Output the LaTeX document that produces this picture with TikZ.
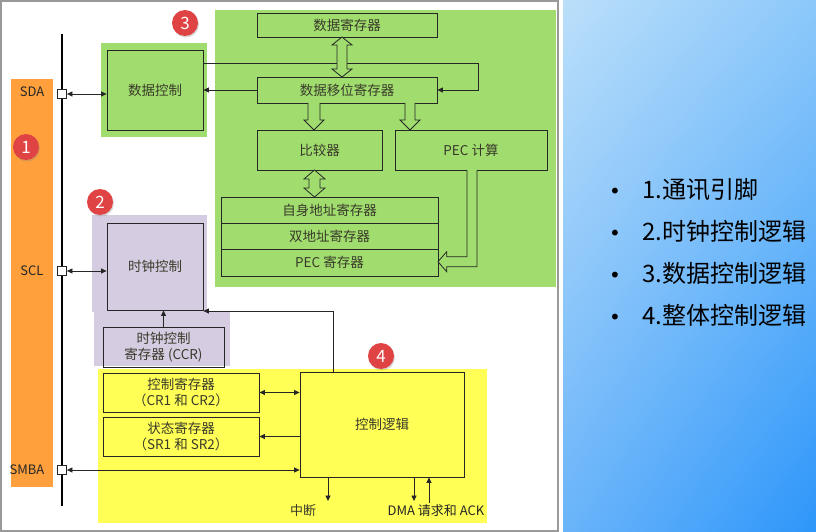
\documentclass[tikz,border=0pt]{standalone}
\usepackage{fontspec}
\setmainfont{Noto Sans CJK SC}
\newfontfamily\dejavu{DejaVu Sans}
\usetikzlibrary{arrows.meta,shadows,calc,shadings}
\definecolor{orangebar}{HTML}{FFA03C}
\definecolor{greenbg}{HTML}{A0DD6E}
\definecolor{purplebg}{HTML}{D5CCE2}
\definecolor{yellowbg}{HTML}{FFFF55}
\definecolor{badgered}{HTML}{E04343}
\definecolor{txt}{HTML}{3A3A2A}
\definecolor{gul}{RGB}{187,223,250}
\definecolor{gur}{RGB}{140,200,250}
\definecolor{gll}{RGB}{106,180,250}
\definecolor{glr}{RGB}{45,150,250}
\begin{document}
\begin{tikzpicture}[x=1pt,y=-1pt,
  >={Triangle[length=5.5pt,width=5pt]},
  box/.style={draw=black!85, line width=0.8pt, inner sep=0pt, text=txt, font=\fontsize{13.5}{16}\selectfont, align=center},
  pin/.style={draw=black!85, fill=white, line width=0.8pt, minimum size=9pt, inner sep=0pt},
  pinlabel/.style={text=black!85, font=\fontsize{13}{15}\selectfont},
  conn/.style={draw=black!85, line width=0.8pt},
  hollow/.style={draw=black!85, line width=0.8pt, fill=greenbg},
  badge/.style={circle, fill=badgered, minimum size=26pt, inner sep=0pt, text=white, font=\fontsize{17}{17}\selectfont, drop shadow={opacity=0.3, shadow xshift=1pt, shadow yshift=-1.5pt}},
  item/.style={anchor=base west, inner sep=0pt, text=black, font=\fontsize{24}{26}\selectfont},
  dot/.style={anchor=base, inner sep=0pt, text=black, font=\dejavu\fontsize{20}{22}\selectfont}
]
\useasboundingbox (0,0) rectangle (816,532);
% right panel
\shade[upper left=gul, upper right=gur, lower left=gll, lower right=glr]
  (563,0) rectangle (816,532);
\foreach \t [count=\i] in {1.通讯引脚,2.时钟控制逻辑,3.数据控制逻辑,4.整体控制逻辑}{
  \node[dot] (bul\i) at (615,{155.7+42.3*\i}) {•};
  \node[item] (it\i) at (642,{155.7+42.3*\i}) {\t};
}
% frame
\draw[gray!80, line width=1.5pt] (1,1) rectangle (558,531);
% backgrounds
\fill[orangebar] (11,79) rectangle (53,487);
\fill[greenbg] (215,10) rectangle (556,287);
\fill[greenbg] (101,43) rectangle (207,137);
\fill[purplebg] (92,215) rectangle (207,312);
\fill[purplebg] (94,312) rectangle (230,366);
\fill[yellowbg] (98,369) rectangle (487,523);
% bus
\draw[black, line width=1.5pt] (62,34) -- (62,506);
% badges
\node[badge] (b1) at (26,147) {1};
\node[badge] (b2) at (100,202) {2};
\node[badge] (b3) at (185,23) {3};
\node[badge] (b4) at (381,356) {4};
% pins
\node[pin] (sda) at (62,94) {};
\node[pin] (scl) at (62,271) {};
\node[pin] (smba) at (62,470) {};
\node[pinlabel] (lsda) at (32,92) {SDA};
\node[pinlabel] (lscl) at (32,271) {SCL};
\node[pinlabel] (lsmba) at (27,470) {SMBA};
% boxes
\node[box, minimum width=96pt, minimum height=80pt] (dc) at (155,90) {数据控制};
\node[box, minimum width=180pt, minimum height=24pt] (dr) at (347,25) {数据寄存器};
\node[box, minimum width=180pt, minimum height=26pt] (dsr) at (347,90) {数据移位寄存器};
\node[box, minimum width=125pt, minimum height=40pt] (cmp) at (319.5,150) {比较器};
\node[box, minimum width=152pt, minimum height=40pt] (pec) at (471,150) {PEC 计算};
\node[box, minimum width=217pt, minimum height=26pt] (own) at (329.5,210) {自身地址寄存器};
\node[box, minimum width=217pt, minimum height=26pt] (dual) at (329.5,236) {双地址寄存器};
\node[box, minimum width=217pt, minimum height=27pt] (pecr) at (329.5,262.5) {PEC 寄存器};
\node[box, minimum width=96pt, minimum height=87pt] (clk) at (155,266.5) {时钟控制};
\node[box, minimum width=121pt, minimum height=40pt] (ccr) at (163.5,347) {时钟控制\\寄存器 (CCR)};
\node[box, minimum width=156pt, minimum height=39pt] (cr) at (181,392.5) {控制寄存器\\（CR1 和 CR2）};
\node[box, minimum width=156pt, minimum height=39pt] (sr) at (181,436.5) {状态寄存器\\（SR1 和 SR2）};
\node[box, minimum width=164pt, minimum height=105pt] (cl) at (382,424.5) {控制逻辑};
% connectors
\coordinate (turn) at (478,63);
\draw[conn,->] (dc.east |- turn) -- (turn) |- (dsr.east);
\draw[conn,<->] (sda.east) -- (sda.east -| dc.west);
\draw[conn,->] (dsr.west) -- (dsr.west -| dc.east);
\draw[conn,<->] (scl.east) -- (scl.east -| clk.west);
\draw[conn,->] (ccr.north) -- (ccr.north |- clk.south);
\coordinate (k) at (333,311);
\draw[conn,->] (k |- cl.north) -- (k) -- (k -| clk.east);
\draw[conn,<->] (cr.east) -- (cr.east -| cl.west);
\draw[conn,->] (sr.east -| cl.west) -- (sr.east);
\draw[conn,<->] (smba.east) -- (smba.east -| cl.west);
\coordinate (irq) at (328,501);
\draw[conn,->] (irq |- cl.south) -- (irq);
\coordinate (dmaq) at (414,501);
\draw[conn,->] (dmaq |- cl.south) -- (dmaq);
\coordinate (ack) at (429,503);
\draw[conn,->] (ack) -- (ack |- cl.south);
\node[text=txt, font=\fontsize{13}{15}\selectfont] (lirq) at (303,511) {中断};
\node[text=black!85, font=\fontsize{13}{15}\selectfont] (ldma) at (436,511) {DMA 请求和 ACK};
% hollow arrows
\draw[hollow] (342,37) -- (352,45) -- (347,45) -- (347,69) -- (352,69) -- (342,77) -- (332,69) -- (337,69) -- (337,45) -- (332,45) -- cycle;
\draw[hollow] (308,103) -- (308,120) -- (304,120) -- (314,130) -- (324,120) -- (320,120) -- (320,103);
\draw[hollow] (405,103) -- (405,120) -- (400,120) -- (410,130) -- (420,120) -- (415,120) -- (415,103);
\draw[hollow] (314.5,170) -- (325,179) -- (320,179) -- (320,188) -- (325,188) -- (314.5,197) -- (304,188) -- (309,188) -- (309,179) -- (304,179) -- cycle;
\draw[hollow] (467,170) -- (467,256.7) -- (446.7,256.7) -- (446.7,251.7) -- (438,261.7) -- (446.7,271.7) -- (446.7,266.7) -- (477,266.7) -- (477,170);
\end{tikzpicture}
\end{document}
